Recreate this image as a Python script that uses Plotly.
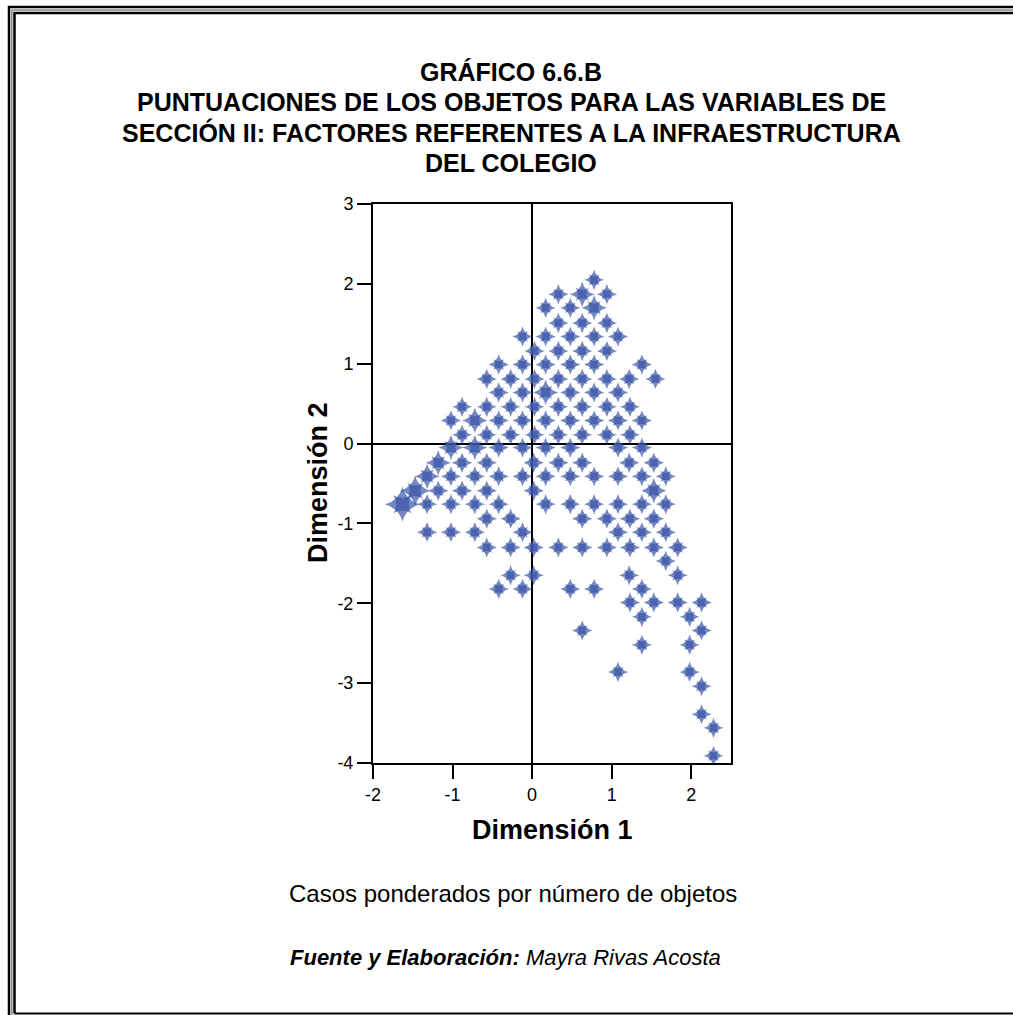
import plotly.graph_objects as go

# ---- data (object scores) ----
dim1 = [
    0.78,
    0.33, 0.63, 0.94,
    0.17, 0.48, 0.78,
    0.33, 0.63, 0.94,
    -0.12, 0.17, 0.48, 0.78, 1.08,
    0.03, 0.33, 0.63, 0.94,
    -0.42, -0.12, 0.17, 0.48, 0.78, 1.38,
    -0.57, -0.27, 0.03, 0.33, 0.63, 0.94, 1.22, 1.55,
    -0.42, -0.12, 0.17, 0.48, 0.78, 1.08,
    -0.88, -0.57, -0.27, 0.03, 0.33, 0.63, 0.94, 1.23,
    -1.02, -0.72, -0.42, -0.12, 0.17, 0.48, 0.78, 1.08, 1.38,
    -0.88, -0.57, -0.27, 0.03, 0.33, 0.63, 0.94, 1.23,
    -1.02, -0.72, -0.42, -0.12, 0.17, 0.48, 1.08, 1.38,
    -1.18, -0.88, -0.57, 0.02, 0.33, 0.63, 1.22, 1.53,
    -1.32, -1.02, -0.72, -0.42, -0.12, 0.17, 0.48, 0.78, 1.08, 1.38, 1.68,
    -1.47, -1.18, -0.88, -0.57, 0.02, 1.53,
    -1.63, -1.32, -1.02, -0.72, -0.42, 0.17, 0.48, 0.78, 1.08, 1.38, 1.68,
    -0.57, -0.27, 0.63, 0.94, 1.23, 1.53,
    -1.32, -1.02, -0.72, -0.12, 1.08, 1.38, 1.68,
    -0.57, -0.27, 0.02, 0.33, 0.63, 0.94, 1.23, 1.53, 1.83,
    1.68,
    -0.27, 0.02, 1.22, 1.83,
    -0.42, -0.12, 0.48, 0.78, 1.38,
    1.23, 1.53, 1.83, 2.13,
    1.38, 1.98,
    0.63, 2.13,
    1.38, 1.98,
    1.08, 1.98,
    2.13,
    2.13,
    2.28,
    2.28,
]
dim2 = [
    2.05,
    1.87, 1.87, 1.87,
    1.70, 1.70, 1.70,
    1.51, 1.51, 1.51,
    1.34, 1.34, 1.34, 1.34, 1.34,
    1.16, 1.16, 1.16, 1.16,
    0.99, 0.99, 0.99, 0.99, 0.99, 0.99,
    0.81, 0.81, 0.81, 0.81, 0.81, 0.81, 0.81, 0.81,
    0.64, 0.64, 0.64, 0.64, 0.64, 0.64,
    0.46, 0.46, 0.46, 0.46, 0.46, 0.46, 0.46, 0.46,
    0.29, 0.29, 0.29, 0.29, 0.29, 0.29, 0.29, 0.29, 0.29,
    0.11, 0.11, 0.11, 0.11, 0.11, 0.11, 0.11, 0.11,
    -0.05, -0.05, -0.05, -0.05, -0.05, -0.05, -0.05, -0.05,
    -0.24, -0.24, -0.24, -0.24, -0.24, -0.24, -0.24, -0.24,
    -0.41, -0.41, -0.41, -0.41, -0.41, -0.41, -0.41, -0.41, -0.41, -0.41, -0.41,
    -0.59, -0.59, -0.59, -0.59, -0.59, -0.59,
    -0.76, -0.76, -0.76, -0.76, -0.76, -0.76, -0.76, -0.76, -0.76, -0.76, -0.76,
    -0.94, -0.94, -0.94, -0.94, -0.94, -0.94,
    -1.11, -1.11, -1.11, -1.11, -1.11, -1.11, -1.11,
    -1.30, -1.30, -1.30, -1.30, -1.30, -1.30, -1.30, -1.30, -1.30,
    -1.47,
    -1.65, -1.65, -1.65, -1.65,
    -1.82, -1.82, -1.82, -1.82, -1.82,
    -1.99, -1.99, -1.99, -1.99,
    -2.17, -2.17,
    -2.34, -2.34,
    -2.52, -2.52,
    -2.86, -2.86,
    -3.04,
    -3.39,
    -3.56,
    -3.91,
]
weight = [
    1,
    1, 2, 1,
    1, 1, 2,
    1, 1, 1,
    1, 1, 1, 1, 1,
    1, 1, 1, 1,
    1, 1, 1, 1, 1, 1,
    1, 1, 1, 1, 1, 1, 1, 1,
    1, 1, 2, 1, 1, 1,
    1, 1, 1, 1, 1, 1, 1, 1,
    1, 2, 1, 1, 1, 1, 1, 1, 1,
    1, 1, 1, 1, 1, 1, 1, 1,
    2, 2, 1, 1, 1, 1, 1, 1,
    2, 1, 1, 1, 1, 1, 1, 1,
    2, 1, 1, 1, 1, 1, 1, 1, 1, 1, 1,
    3, 1, 1, 1, 1, 2,
    4, 1, 1, 1, 1, 1, 1, 1, 1, 1, 1,
    1, 1, 1, 1, 1, 1,
    1, 1, 1, 1, 1, 1, 1,
    1, 1, 1, 1, 1, 1, 1, 1, 1,
    1,
    1, 1, 1, 1,
    1, 1, 1, 1, 1,
    1, 1, 1, 1,
    1, 1,
    1, 1,
    1, 1,
    1, 1,
    1,
    1,
    1,
    1,
]

x_ticks = [-2, -1, 0, 1, 2]
y_ticks = [-4, -3, -2, -1, 0, 1, 2, 3]

title_lines = [
    "GRÁFICO 6.6.B",
    "PUNTUACIONES DE LOS OBJETOS PARA LAS VARIABLES DE",
    "SECCIÓN II: FACTORES REFERENTES A LA INFRAESTRUCTURA",
    "DEL COLEGIO",
]

# ---- layout constants ----
W, H = 1013, 1015
ML, MR, MT, MB = 373, 282, 204, 252
PW, PH = W - ML - MR, H - MT - MB
FONT = "Liberation Sans, Arial, sans-serif"
BLUE = "#3B55A8"


def px(xp):
    return (xp - ML) / PW


def py(yp):
    return (H - MB - yp) / PH


sizes = [14.5 + 3.5 * (w - 1) for w in weight]
sizes_d = [s * 0.66 for s in sizes]

fig = go.Figure()
fig.add_trace(go.Scatter(
    x=dim1, y=dim2, mode="markers",
    marker=dict(symbol="star-diamond", size=sizes, color=BLUE, line=dict(width=0)),
    hoverinfo="x+y", showlegend=False,
))
fig.add_trace(go.Scatter(
    x=dim1, y=dim2, mode="markers",
    marker=dict(symbol="star-square", size=sizes_d, color=BLUE, line=dict(width=0)),
    hoverinfo="skip", showlegend=False,
))

axis_common = dict(
    showgrid=False, zeroline=True, zerolinecolor="black", zerolinewidth=2,
    showline=True, linecolor="black", linewidth=2, mirror=True,
    ticks="outside", ticklen=14, tickwidth=2, tickcolor="black",
    tickfont=dict(family=FONT, size=18, color="black"),
)
fig.update_xaxes(range=[-2, 2.5], tickvals=x_ticks, ticktext=[str(v) for v in x_ticks], **axis_common)
fig.update_yaxes(range=[-4, 3], tickvals=y_ticks, ticktext=[str(v) for v in y_ticks], **axis_common)

annotations = []
title_y = [72, 102, 133, 163]
for t, yy in zip(title_lines, title_y):
    annotations.append(dict(
        text="<b>%s</b>" % t, x=px(511), y=py(yy), xref="paper", yref="paper",
        xanchor="center", yanchor="middle", showarrow=False,
        font=dict(family=FONT, size=25, color="black"),
    ))
annotations.append(dict(
    text="<b>Dimensión 1</b>", x=px(552), y=py(830), xref="paper", yref="paper",
    xanchor="center", yanchor="middle", showarrow=False,
    font=dict(family=FONT, size=27, color="black"),
))
annotations.append(dict(
    text="<b>Dimensión 2</b>", x=px(318), y=py(483), xref="paper", yref="paper",
    xanchor="center", yanchor="middle", showarrow=False, textangle=-90,
    font=dict(family=FONT, size=27, color="black"),
))
annotations.append(dict(
    text="Casos ponderados por número de objetos", x=px(513), y=py(893),
    xref="paper", yref="paper", xanchor="center", yanchor="middle", showarrow=False,
    font=dict(family=FONT, size=24, color="black"),
))
annotations.append(dict(
    text="<b><i>Fuente y Elaboración:</i></b><i> Mayra Rivas Acosta</i>", x=px(505), y=py(957),
    xref="paper", yref="paper", xanchor="center", yanchor="middle", showarrow=False,
    font=dict(family=FONT, size=22, color="black"),
))

shapes = [
    dict(type="path", path="M %f %f L %f %f L %f %f" % (px(9), py(1016), px(9), py(7), px(1014), py(7)),
         xref="paper", yref="paper", line=dict(color="black", width=2.5)),
    dict(type="path", path="M %f %f L %f %f L %f %f" % (px(11.8), py(1016), px(11.8), py(10), px(1014), py(10)),
         xref="paper", yref="paper", line=dict(color="#888888", width=1.5)),
    dict(type="path", path="M %f %f L %f %f L %f %f" % (px(14.5), py(1013.5), px(14.5), py(13), px(1014), py(13)),
         xref="paper", yref="paper", line=dict(color="black", width=2.5)),
    dict(type="line", x0=px(14.5), x1=px(1014), y0=py(1013.5), y1=py(1013.5),
         xref="paper", yref="paper", line=dict(color="black", width=2)),
]

fig.update_layout(
    width=W, height=H,
    margin=dict(l=ML, r=MR, t=MT, b=MB, pad=0),
    paper_bgcolor="white", plot_bgcolor="white",
    font=dict(family=FONT, color="black"),
    annotations=annotations, shapes=shapes,
    showlegend=False,
)

fig.write_html(
    "out.html",
    config={"displayModeBar": False},
    post_script="document.body.style.margin='0';document.body.style.overflow='hidden';",
)
